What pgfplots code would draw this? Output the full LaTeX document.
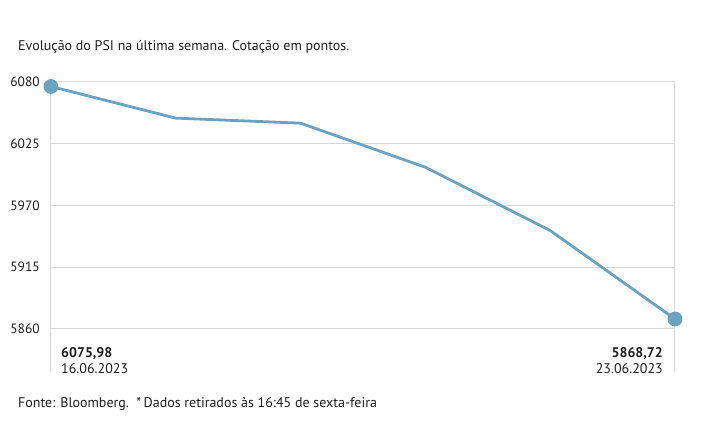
\documentclass[border=0pt]{standalone}
\usepackage{pgfplots}
\pgfplotsset{compat=1.18}
\usepackage{fontspec}
\setmainfont{PT Sans}
\definecolor{psiline}{RGB}{106,163,192}
\definecolor{gridc}{RGB}{217,217,217}
\definecolor{txt}{RGB}{30,30,30}
\begin{document}
\begin{tikzpicture}[font=\fontsize{14}{16}\selectfont, text=txt]
\path[use as bounding box] (-51pt,-73pt) rectangle (664pt,372pt);
\begin{axis}[
  at={(0pt,0pt)}, anchor=south west,
  scale only axis, width=624pt, height=290pt,
  xmin=0, xmax=5, ymin=5821.5, ymax=6080,
  axis line style={draw=none},
  xtick={0,5}, xticklabels={}, major tick length=0pt,
  xmajorgrids, ymajorgrids,
  grid style={gridc, line width=1pt},
  ytick={5860,5915,5970,6025,6080},
  yticklabel style={font=\fontsize{13.5}{15}\selectfont, text=txt, inner sep=0pt, xshift=-11pt},
  /pgf/number format/assume math mode=true,
  /pgf/number format/1000 sep={},
  clip=false,
]
\addplot[psiline, line width=2.8pt, mark=*, mark indices={1,6},
  mark options={fill=psiline, draw=none}, mark size=6pt]
  coordinates {(0,6075.98) (1,6047.8) (2,6043.3) (3,6004) (4,5947.6) (5,5868.72)};
\end{axis}
\node[anchor=base west, inner sep=0pt, font=\fontsize{14}{16}\selectfont\bfseries] at (10pt,15pt) {6075,98};
\node[anchor=base west, inner sep=0pt] at (10pt,-1pt) {16.06.2023};
\node[anchor=base east, inner sep=0pt, font=\fontsize{14}{16}\selectfont\bfseries] at (612pt,15pt) {5868,72};
\node[anchor=base east, inner sep=0pt] at (612pt,-1pt) {23.06.2023};
\node[anchor=base west, inner sep=0pt] at (-33pt,321pt) {Evolução do PSI na última semana. Cotação em pontos.};
\node[anchor=base west, inner sep=0pt] at (-33pt,-35pt) {Fonte: Bloomberg.\ \ *\,Dados retirados às 16:45 de sexta-feira};
\end{tikzpicture}
\end{document}
